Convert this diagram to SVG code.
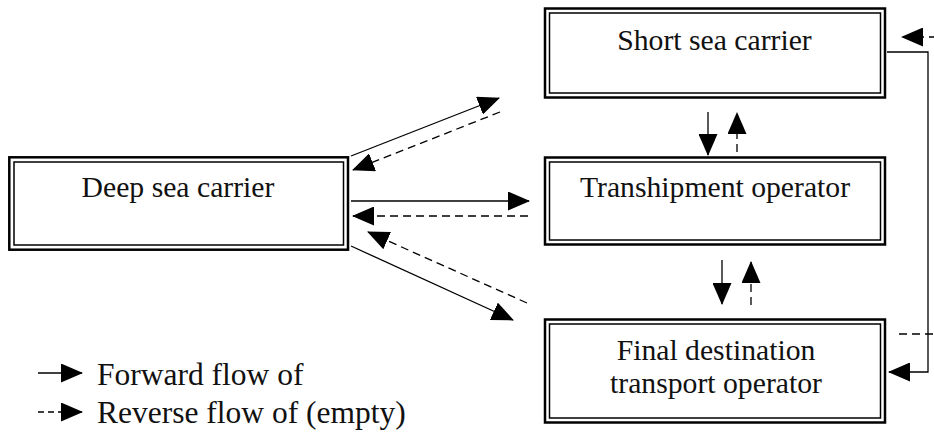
<svg xmlns="http://www.w3.org/2000/svg" width="934" height="432" viewBox="0 0 934 432">
<defs>
<style>
.outer{fill:none;stroke:#000;stroke-width:2.5}
.inner{fill:none;stroke:#000;stroke-width:1.5}
.lbl{font-family:'Liberation Serif','Times New Roman',serif;font-size:29.7px;text-anchor:middle;fill:#111}
.leg{font-family:'Liberation Serif','Times New Roman',serif;font-size:31.5px;fill:#111}
.fwd{fill:none;stroke:#000;stroke-width:1.3}
.rev{fill:none;stroke:#000;stroke-width:1.3;stroke-dasharray:8 5}
</style>
<marker id="ah" markerUnits="userSpaceOnUse" viewBox="0 0 22 19" markerWidth="22" markerHeight="19" refX="21" refY="9.5" orient="auto">
<path d="M0,0 L22,9.5 L0,19 z" fill="#000"/>
</marker>
</defs>
<rect width="934" height="432" fill="#fff"/>
<g id="deep-sea-carrier">
<rect class="outer" x="9.3" y="157.3" width="338.7" height="92.4"/>
<rect class="inner" x="14" y="162" width="329.5" height="83"/>
<text class="lbl" x="178" y="197">Deep sea carrier</text>
</g>
<g id="short-sea-carrier">
<rect class="outer" x="545" y="8.5" width="340" height="89"/>
<rect class="inner" x="549.5" y="13" width="331" height="80"/>
<text class="lbl" x="714.5" y="50">Short sea carrier</text>
</g>
<g id="transhipment-operator">
<rect class="outer" x="545" y="157.5" width="340" height="87"/>
<rect class="inner" x="549.5" y="162" width="331" height="78"/>
<text class="lbl" x="715" y="197">Transhipment operator</text>
</g>
<g id="final-destination">
<rect class="outer" x="545" y="319.5" width="340" height="103"/>
<rect class="inner" x="549.5" y="324" width="331" height="94"/>
<text class="lbl" x="716" y="360">Final destination</text>
<text class="lbl" x="716" y="393">transport operator</text>
</g>
<g id="connectors">
<line class="fwd" x1="351" y1="156" x2="499" y2="98" marker-end="url(#ah)"/>
<line class="rev" x1="500" y1="112" x2="353" y2="170" marker-end="url(#ah)"/>
<line class="fwd" x1="351" y1="201" x2="529" y2="201" marker-end="url(#ah)"/>
<line class="rev" x1="528" y1="216" x2="353" y2="216" marker-end="url(#ah)"/>
<line class="rev" x1="527" y1="303" x2="368" y2="232" marker-end="url(#ah)"/>
<line class="fwd" x1="351" y1="246" x2="513" y2="320" marker-end="url(#ah)"/>
<line class="fwd" x1="708" y1="112" x2="708" y2="155" marker-end="url(#ah)"/>
<line class="rev" x1="737" y1="152" x2="737" y2="113" marker-end="url(#ah)"/>
<line class="fwd" x1="722" y1="260" x2="722" y2="304" marker-end="url(#ah)"/>
<line class="rev" x1="751" y1="305" x2="751" y2="262" marker-end="url(#ah)"/>
<path class="fwd" d="M887,52 H928 V372 H889" marker-end="url(#ah)"/>
<path class="rev" d="M899,334 H945 V37 H902" marker-end="url(#ah)"/>
</g>
<g id="legend">
<line class="fwd" x1="38" y1="373" x2="82" y2="373" marker-end="url(#ah)"/>
<line class="rev" x1="38" y1="412" x2="82" y2="412" style="stroke-dasharray:6 4" marker-end="url(#ah)"/>
<text class="leg" x="97" y="385">Forward flow of</text>
<text class="leg" x="97" y="423">Reverse flow of (empty)</text>
</g>
</svg>
